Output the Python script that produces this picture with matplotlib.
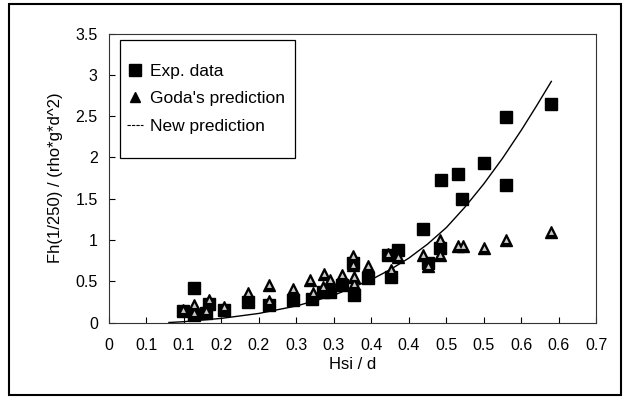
import matplotlib.pyplot as plt
from matplotlib.patches import Rectangle
from matplotlib.lines import Line2D

plt.rcParams['font.family'] = ['Liberation Sans', 'DejaVu Sans']

# measured forces (Hsi/d, Fh)
exp_x = [0.113, 0.099, 0.113, 0.130, 0.133, 0.153, 0.185, 0.214, 0.245, 0.271,
         0.285, 0.295, 0.311, 0.327, 0.326, 0.346, 0.372, 0.385, 0.376, 0.419,
         0.425, 0.441, 0.443, 0.465, 0.471, 0.500, 0.530, 0.529, 0.589]
exp_y = [0.42, 0.14, 0.09, 0.11, 0.23, 0.15, 0.25, 0.21, 0.27, 0.29,
         0.37, 0.37, 0.45, 0.33, 0.72, 0.54, 0.82, 0.88, 0.55, 1.13,
         0.72, 0.90, 1.72, 1.80, 1.49, 1.93, 2.49, 1.66, 2.65]

# Goda's formula
goda_x = [0.099, 0.113, 0.113, 0.130, 0.133, 0.153, 0.185, 0.214, 0.214, 0.245,
          0.268, 0.272, 0.287, 0.285, 0.295, 0.311, 0.326, 0.326, 0.327, 0.327,
          0.346, 0.372, 0.385, 0.376, 0.419, 0.426, 0.441, 0.441, 0.465, 0.472,
          0.500, 0.529, 0.589]
goda_y = [0.15, 0.21, 0.11, 0.14, 0.27, 0.19, 0.36, 0.45, 0.26, 0.41,
          0.52, 0.36, 0.59, 0.43, 0.51, 0.57, 0.80, 0.70, 0.55, 0.47,
          0.69, 0.83, 0.79, 0.64, 0.82, 0.68, 1.00, 0.82, 0.93, 0.93,
          0.90, 1.00, 1.10]

# new prediction curve
new_x = [0.08, 0.10, 0.15, 0.20, 0.25, 0.30, 0.35, 0.375, 0.40, 0.425,
         0.45, 0.475, 0.50, 0.525, 0.55, 0.57, 0.59]
new_y = [0.0, 0.01, 0.05, 0.11, 0.20, 0.33, 0.52, 0.64, 0.78, 0.95,
         1.15, 1.40, 1.68, 1.99, 2.33, 2.62, 2.92]

x_ticks = [0, 0.05, 0.1, 0.15, 0.2, 0.25, 0.3, 0.35, 0.4, 0.45, 0.5, 0.55, 0.6, 0.65]
x_labels = ['0', '0.1', '0.1', '0.2', '0.2', '0.3', '0.3', '0.4', '0.4',
            '0.5', '0.5', '0.6', '0.6', '0.7']
y_ticks = [0, 0.5, 1, 1.5, 2, 2.5, 3, 3.5]
y_labels = ['0', '0.5', '1', '1.5', '2', '2.5', '3', '3.5']

W, H = 627, 399
fig = plt.figure(figsize=(W / 100, H / 100), dpi=100)
ax = fig.add_axes([0.1737, 0.1917, 0.7774, 0.7243])

ax.plot(new_x, new_y, color='black', lw=1.0, zorder=2)
ax.plot(exp_x, exp_y, 's', color='black', ms=8, zorder=3)
ax.plot(goda_x, goda_y, '^', color='black', ms=9, zorder=4)
ax.plot(goda_x, goda_y, '^', color='#c8c8c8', ms=3.5, mew=0, zorder=5)

ax.set_xlim(0, 0.65)
ax.set_ylim(0, 3.5)
ax.set_xticks(x_ticks)
ax.set_xticklabels(x_labels)
ax.set_yticks(y_ticks)
ax.set_yticklabels(y_labels)
ax.tick_params(direction='in', length=4, width=0.8, labelsize=11.5)
ax.tick_params(axis='x', pad=11)
ax.tick_params(axis='y', pad=8)
for s in ax.spines.values():
    s.set_linewidth(0.8)
    s.set_color('#333333')

ax.set_xlabel('Hsi / d', fontsize=12, labelpad=3)
ax.set_ylabel('Fh(1/250) / (rho*g*d^2)', fontsize=12, labelpad=9)

# legend, with its box drawn separately
handles = [
    Line2D([], [], marker='s', color='black', ls='none', ms=8),
    Line2D([], [], marker='^', color='black', ls='none', ms=7),
    Line2D([], [], color='black', lw=0.8, ls=(0, (3, 1))),
]
ax.legend(handles, ['Exp. data', "Goda's prediction", 'New prediction'],
          loc='upper left', bbox_to_anchor=(127 / W, 1 - 64 / H),
          bbox_transform=fig.transFigure, fontsize=12.5, frameon=False,
          handlelength=0.9, handletextpad=0.4, labelspacing=0.7,
          borderpad=0, borderaxespad=0)
fig.patches.append(Rectangle((120 / W, 1 - 158 / H), 175 / W, 118 / H,
                             transform=fig.transFigure, fill=False,
                             edgecolor='black', lw=0.9))

# frame around the whole figure
fig.patches.append(Rectangle((9 / W, 1 - 395 / H), 612 / W, 391 / H,
                             transform=fig.transFigure, fill=False,
                             edgecolor='black', lw=1.5))

fig.savefig('out.png', dpi=100)
